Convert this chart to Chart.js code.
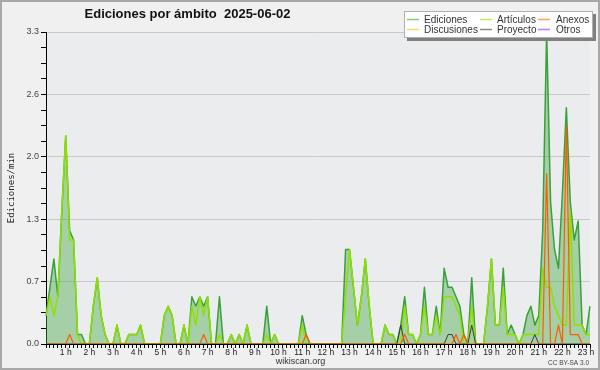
<!DOCTYPE html>
<html>
<head>
<meta charset="utf-8">
<script src="https://cdn.jsdelivr.net/npm/chart.js@4.4.1/dist/chart.umd.min.js"></script>
<style>
html, body { margin: 0; padding: 0; background: #f0f0f0; }
#wrap { width: 600px; height: 370px; position: relative; }
</style>
</head>
<body>
<div id="wrap"><canvas id="myChart"></canvas></div>
<script>
var chart_title = 'Ediciones por ámbito  2025-06-02';
var y_title = 'Ediciones/min';
var hour_labels = ['1 h', '2 h', '3 h', '4 h', '5 h', '6 h', '7 h', '8 h', '9 h', '10 h', '11 h', '12 h',
    '13 h', '14 h', '15 h', '16 h', '17 h', '18 h', '19 h', '20 h', '21 h', '22 h', '23 h'];
var y_max = 3.3;
// one value every 10 minutes, from 00:10 to 23:10
var ediciones = [
    0.3, 0.6, 0.9, 0.5, 1.4, 2.2,
    1.2, 1.1, 0.1, 0.1, 0, 0,
    0.4, 0.7, 0.3, 0.1, 0, 0,
    0.2, 0, 0, 0.1, 0.1, 0.1,
    0.2, 0, 0, 0, 0, 0,
    0.3, 0.4, 0.3, 0, 0, 0.2,
    0, 0.5, 0.4, 0.5, 0.4, 0.5,
    0, 0, 0.5, 0, 0, 0.1,
    0, 0.1, 0, 0.2, 0, 0,
    0, 0, 0.4, 0, 0.1, 0,
    0, 0, 0, 0, 0, 0.3,
    0.1, 0, 0, 0, 0, 0,
    0, 0, 0, 0, 1.0, 1.0,
    0.6, 0.2, 0.5, 0.9, 0.4, 0,
    0, 0, 0.2, 0.1, 0.1, 0,
    0.2, 0.5, 0.1, 0.1, 0, 0.1,
    0.6, 0.1, 0.1, 0.4, 0.1, 0.8,
    0.6, 0.6, 0.5, 0.4, 0.1, 0,
    0.7, 0, 0, 0, 0.4, 0.9,
    0.2, 0.2, 0.8, 0.1, 0.2, 0.1,
    0, 0.1, 0.3, 0.4, 0.2, 0.3,
    1.2, 3.3, 1.5, 1.0, 0.8, 1.6,
    2.5, 1.5, 1.1, 1.3, 0.2, 0.1,
    0.4
];
var articulos = [
    0.3, 0.5, 0.3, 0.5, 1.4, 2.2,
    1.1, 1.1, 0.1, 0, 0, 0,
    0.4, 0.7, 0.3, 0.1, 0, 0,
    0.2, 0, 0, 0.1, 0.1, 0.1,
    0.2, 0, 0, 0, 0, 0,
    0.3, 0.4, 0.3, 0, 0, 0.2,
    0, 0.4, 0.2, 0.5, 0.3, 0.5,
    0, 0, 0.1, 0, 0, 0.1,
    0, 0.1, 0, 0.2, 0, 0,
    0, 0, 0.1, 0, 0.1, 0,
    0, 0, 0, 0, 0, 0.2,
    0, 0, 0, 0, 0, 0,
    0, 0, 0, 0, 0.5, 1.0,
    0.6, 0.2, 0.5, 0.9, 0.4, 0,
    0, 0, 0.2, 0.1, 0.1, 0,
    0, 0.4, 0.1, 0.1, 0, 0.1,
    0.4, 0.1, 0.1, 0.3, 0.1, 0.5,
    0.5, 0.5, 0.4, 0.3, 0, 0,
    0.4, 0, 0, 0, 0.4, 0.9,
    0.2, 0.2, 0.6, 0.1, 0.1, 0.1,
    0, 0.1, 0.1, 0.1, 0.1, 0.1,
    0.8, 0.6, 0.6, 0.4, 0.3, 0.2,
    0.2, 1.4, 0.2, 0.2, 0.2, 0.1,
    0.1
];
var anexos = [
    0, 0, 0, 0, 0, 0,
    0.1, 0, 0, 0, 0, 0,
    0, 0, 0, 0, 0, 0,
    0, 0, 0, 0, 0, 0,
    0, 0, 0, 0, 0, 0,
    0, 0, 0, 0, 0, 0,
    0, 0, 0, 0, 0.1, 0,
    0, 0, 0, 0, 0, 0,
    0, 0, 0, 0, 0, 0,
    0, 0, 0, 0, 0, 0,
    0, 0, 0, 0, 0, 0,
    0.1, 0, 0, 0, 0, 0,
    0, 0, 0, 0, 0, 0,
    0, 0, 0, 0, 0, 0,
    0, 0, 0, 0, 0, 0,
    0, 0.1, 0, 0, 0, 0,
    0, 0, 0, 0, 0, 0,
    0, 0, 0.1, 0, 0.1, 0,
    0, 0, 0, 0, 0, 0,
    0, 0, 0, 0, 0, 0,
    0, 0, 0, 0, 0, 0,
    0, 1.8, 0, 0, 0.2, 0,
    2.3, 0.1, 0.1, 0.1, 0, 0,
    0
];
var proyecto = [
    0, 0, 0, 0, 0, 0,
    0, 0, 0, 0, 0, 0,
    0, 0, 0, 0, 0, 0,
    0, 0, 0, 0, 0, 0,
    0, 0, 0, 0, 0, 0,
    0, 0, 0, 0, 0, 0,
    0, 0, 0, 0, 0, 0,
    0, 0, 0, 0, 0, 0,
    0, 0, 0, 0, 0, 0,
    0, 0, 0, 0, 0, 0,
    0, 0, 0, 0, 0, 0,
    0, 0, 0, 0, 0, 0,
    0, 0, 0, 0, 0, 0,
    0, 0, 0, 0, 0, 0,
    0, 0, 0, 0, 0, 0,
    0.2, 0, 0, 0, 0, 0,
    0, 0, 0, 0, 0, 0,
    0.1, 0.1, 0, 0, 0, 0,
    0.2, 0, 0, 0, 0, 0,
    0, 0, 0, 0, 0, 0,
    0, 0, 0, 0, 0.1, 0,
    0, 0, 0, 0, 0, 0,
    0, 0, 0, 0, 0, 0,
    0
];
var discusiones = [];
var otros = [];

var label = [];
for (let i = 0; i < ediciones.length; i++) {
    let m = (i + 1) * 10;
    label.push(String(Math.floor(m / 60)).padStart(2, '0') + ':' + String(m % 60).padStart(2, '0'));
}

var frame_plugin = {
    id: 'frame',
    beforeDraw: function (chart) {
        let c = chart.ctx, a = chart.chartArea;
        c.save();
        c.fillStyle = '#f0f0f0';
        c.fillRect(0, 0, chart.width, chart.height);
        c.fillStyle = '#ebecee';
        c.fillRect(a.left, a.top, a.right - a.left, a.bottom - a.top);
        c.restore();
    },
    afterDraw: function (chart) {
        let c = chart.ctx;
        c.save();
        // title
        c.fillStyle = '#111';
        c.font = 'bold 13px "Liberation Sans", Arial, sans-serif';
        c.textAlign = 'center';
        c.textBaseline = 'alphabetic';
        c.fillText(chart_title, 187.5, 18);
        // legend box
        c.fillStyle = '#808080';
        c.fillRect(407, 14, 189, 27);
        c.fillStyle = '#ffffff';
        c.fillRect(404, 11, 189, 27);
        c.strokeStyle = '#b0b0b0';
        c.lineWidth = 1;
        c.strokeRect(404.5, 11.5, 188, 26);
        let line_x = [407, 480, 538];
        let text_x = [424, 497, 556];
        c.font = '10px "Liberation Sans", Arial, sans-serif';
        c.textAlign = 'left';
        chart.data.datasets.forEach(function (ds, k) {
            let col = Math.floor(k / 2), row = k % 2;
            let y = 19.5 + row * 10;
            c.globalAlpha = 0.6;
            c.strokeStyle = ds.borderColor;
            c.lineWidth = 1.5;
            c.beginPath();
            c.moveTo(line_x[col], y);
            c.lineTo(line_x[col] + 12, y);
            c.stroke();
            c.globalAlpha = 1;
            c.fillStyle = '#333';
            c.fillText(ds.label, text_x[col], y + 3.5);
        });
        // footer
        c.fillStyle = '#333';
        c.font = '9px "Liberation Sans", Arial, sans-serif';
        c.textAlign = 'center';
        c.fillText('wikiscan.org', 300.5, 364);
        c.fillStyle = '#444';
        c.font = '6.5px "Liberation Sans", Arial, sans-serif';
        c.textAlign = 'right';
        c.fillText('CC BY-SA 3.0', 589, 365);
        // outer frame
        c.strokeStyle = '#a8a8a8';
        c.lineWidth = 2;
        c.strokeRect(1, 1, chart.width - 2, chart.height - 2);
        c.restore();
    }
};

var ctx = document.getElementById('myChart');
var chart = new Chart(ctx, {
    type: 'line',
    data: {
        labels: label,
        datasets: [
            {
                label: 'Ediciones',
                data: ediciones,
                borderColor: '#3aa03a',
                backgroundColor: 'rgba(70,170,70,0.42)',
                borderWidth: 1.5,
                fill: 'origin',
                order: 6
            },
            {
                label: 'Discusiones',
                data: discusiones,
                borderColor: '#f0c000',
                borderWidth: 1.5,
                fill: false,
                order: 5
            },
            {
                label: 'Artículos',
                data: articulos,
                borderColor: '#8fe000',
                borderWidth: 1.5,
                fill: false,
                order: 4
            },
            {
                label: 'Proyecto',
                data: proyecto,
                borderColor: '#3c3c3c',
                borderWidth: 1,
                fill: false,
                order: 3
            },
            {
                label: 'Anexos',
                data: anexos,
                borderColor: '#ff5a00',
                borderWidth: 1.2,
                fill: false,
                order: 2
            },
            {
                label: 'Otros',
                data: otros,
                borderColor: '#8a2be2',
                borderWidth: 1.2,
                fill: false,
                order: 1
            }
        ]
    },
    options: {
        responsive: true,
        maintainAspectRatio: false,
        animation: false,
        devicePixelRatio: 1,
        elements: {
            point: { radius: 0, hoverRadius: 0 },
            line: { tension: 0, borderJoinStyle: 'round' }
        },
        layout: { padding: { top: 32, right: 10, left: 0, bottom: 0 } },
        scales: {
            x: {
                type: 'category',
                offset: false,
                afterFit: function (s) { s.height = 26; },
                border: { display: true, color: '#000', width: 1 },
                grid: { drawOnChartArea: false, drawTicks: true, tickLength: 4, color: '#000', tickColor: '#000' },
                ticks: {
                    autoSkip: false,
                    maxRotation: 0,
                    minRotation: 0,
                    padding: 0,
                    color: '#222',
                    font: { family: '"Liberation Sans", Arial, sans-serif', size: 8.5 },
                    callback: function (value, index) {
                        return index % 6 === 5 ? hour_labels[(index - 5) / 6] : '';
                    }
                }
            },
            y: {
                min: 0,
                max: y_max,
                afterFit: function (s) { s.width = 46; },
                border: { display: true, color: '#000', width: 1 },
                grid: {
                    drawTicks: true,
                    tickLength: 5,
                    tickColor: '#000',
                    color: function (c) { return c.index % 4 === 0 ? '#c9c9c9' : 'rgba(0,0,0,0)'; }
                },
                ticks: {
                    stepSize: y_max / 20,
                    autoSkip: false,
                    padding: 2,
                    color: '#444',
                    font: { family: '"Liberation Sans", Arial, sans-serif', size: 9 },
                    callback: function (value, index) {
                        return index % 4 === 0 ? value.toFixed(1) : '';
                    }
                },
                title: {
                    display: true,
                    text: y_title,
                    color: '#222',
                    padding: { top: 6, bottom: 0 },
                    font: { family: '"DejaVu Sans Mono", monospace', size: 9 }
                }
            }
        },
        plugins: {
            legend: { display: false },
            title: { display: false },
            tooltip: { enabled: false }
        }
    },
    plugins: [frame_plugin]
});
</script>
</body>
</html>
